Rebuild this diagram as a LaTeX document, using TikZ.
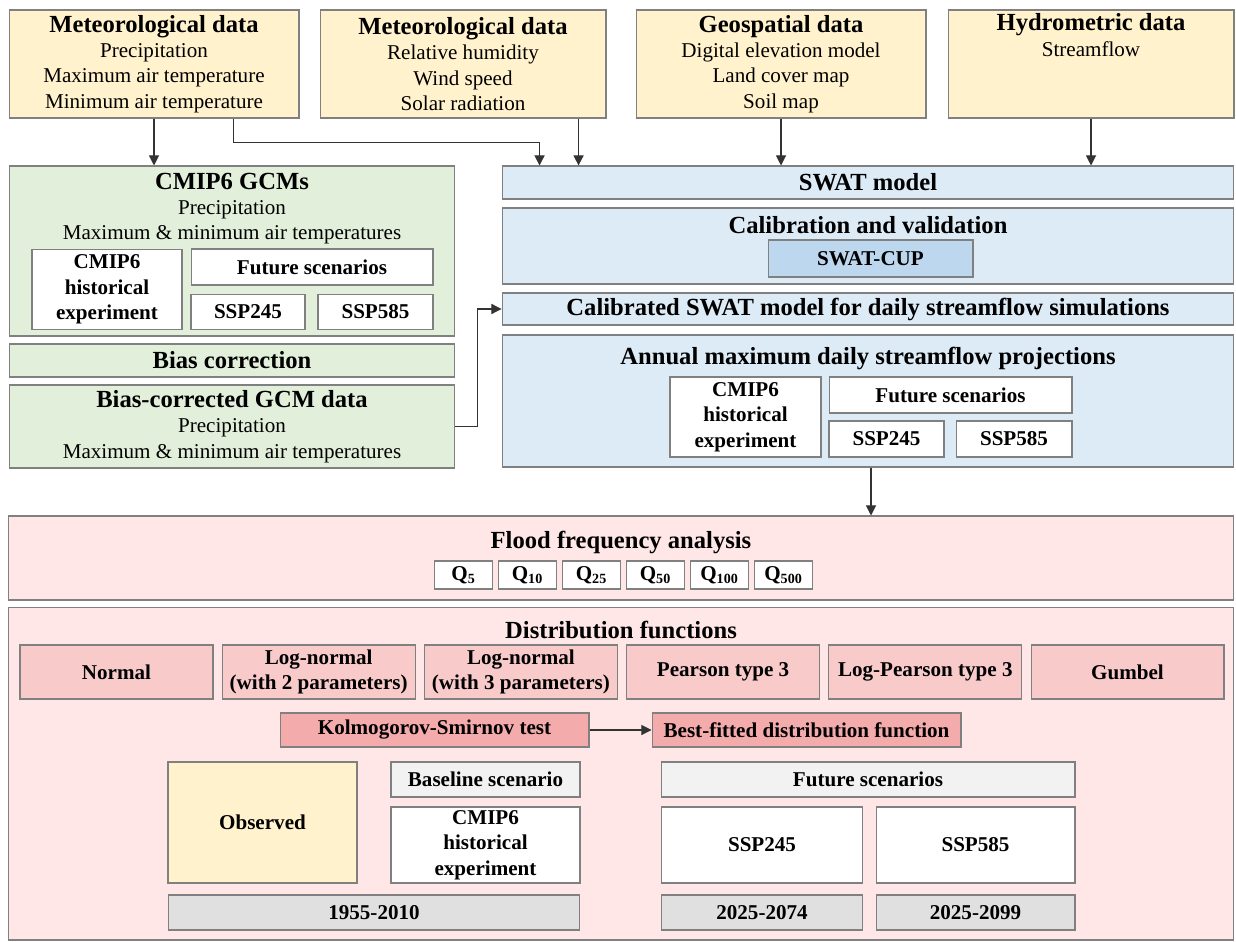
\documentclass[tikz,border=0pt]{standalone}
\usepackage{fontspec}
\setmainfont{Liberation Serif}
\usepackage{xcolor}
\usepackage{tikz}
\usetikzlibrary{positioning,arrows.meta,calc}

\definecolor{inyellow}{HTML}{FFF2CC}
\definecolor{ingreen}{HTML}{E2EFDA}
\definecolor{inblue}{HTML}{DDEBF7}
\definecolor{cupblue}{HTML}{BDD7EE}
\definecolor{pinklight}{HTML}{FFE7E7}
\definecolor{pinkmid}{HTML}{F8CACA}
\definecolor{pinkdark}{HTML}{F4ABAB}
\definecolor{greylight}{HTML}{F2F2F2}
\definecolor{greymid}{HTML}{E0E0E0}
\definecolor{edge}{HTML}{808080}

\newcommand{\hd}[1]{{\fontsize{14}{14.4}\selectfont\bfseries #1}}

\begin{document}
\begin{tikzpicture}[x=0.02cm,y=-0.02cm,>={Triangle[length=5.8pt,width=5.8pt]},
  every node/.style={font=\fontsize{12}{14.4}\selectfont}]
\tikzstyle{bx}=[draw=edge,line width=0.6pt,align=center,inner sep=0pt]
\tikzstyle{wbx}=[bx,fill=white,font=\fontsize{12}{14.4}\selectfont\bfseries]
\tikzstyle{ttl}=[anchor=north,align=center,inner sep=0pt]
\tikzstyle{con}=[->,draw=black!80,line width=0.6pt]
\useasboundingbox (0,0) rectangle (1236,942);

% input data
\node[bx,fill=inyellow,minimum width=5.8cm,minimum height=2.16cm] (met1) at (154,64)
  {\hd{Meteorological data}\\Precipitation\\Maximum air temperature\\Minimum air temperature};
\node[bx,fill=inyellow,minimum width=5.72cm,minimum height=2.16cm] (met2) at (463,64)
  {\hd{Meteorological data}\\Relative humidity\\Wind speed\\Solar radiation};
\node[bx,fill=inyellow,minimum width=5.8cm,minimum height=2.16cm] (geo) at (781,64)
  {\hd{Geospatial data}\\Digital elevation model\\Land cover map\\Soil map};
\node[bx,fill=inyellow,minimum width=5.72cm,minimum height=2.16cm] (hydro) at (1091,64)
  {\hd{Hydrometric data}\\Streamflow\\\strut\\\strut};

% GCM column
\node[bx,fill=ingreen,minimum width=8.92cm,minimum height=3.4cm] (gcm) at (232,251) {};
\node[ttl,below=4pt of gcm.north] (gcmttl)
  {\hd{CMIP6 GCMs}\\Precipitation\\Maximum \& minimum air temperatures};
\node[wbx,minimum width=3.0cm,minimum height=1.6cm] (gcmhist) at (107,289.5) {CMIP6\\historical\\experiment};
\node[wbx,minimum width=4.84cm,minimum height=0.72cm] (gcmfut) at (312,267) {Future scenarios};
\node[wbx,minimum width=2.28cm,minimum height=0.7cm] (gcm245) at (248,312) {SSP245};
\node[wbx,minimum width=2.3cm,minimum height=0.7cm] (gcm585) at (375.5,312) {SSP585};
\node[bx,fill=ingreen,minimum width=8.92cm,minimum height=0.66cm] (bias) at (232,360.5) {\hd{Bias correction}};
\node[bx,fill=ingreen,minimum width=8.92cm,minimum height=1.66cm] (biasgcm) at (232,426.5)
  {\hd{Bias-corrected GCM data}\\Precipitation\\Maximum \& minimum air temperatures};

% SWAT column
\node[bx,fill=inblue,minimum width=14.64cm,minimum height=0.66cm] (swat) at (868,182.5) {\hd{SWAT model}};
\node[bx,fill=inblue,minimum width=14.64cm,minimum height=1.52cm] (calib) at (868,246) {};
\node[ttl,below=5pt of calib.north] (calibttl) {\hd{Calibration and validation}};
\node[wbx,fill=cupblue,minimum width=4.1cm,minimum height=0.74cm] (cup) at (870.5,258.5) {SWAT-CUP};
\node[bx,fill=inblue,minimum width=14.64cm,minimum height=0.64cm] (calswat) at (868,309)
  {\hd{Calibrated SWAT model for daily streamflow simulations}};
\node[bx,fill=inblue,minimum width=14.64cm,minimum height=2.64cm] (annual) at (868,401) {};
\node[ttl,below=7pt of annual.north] (annualttl) {\hd{Annual maximum daily streamflow projections}};
\node[wbx,minimum width=3.02cm,minimum height=1.6cm] (anhist) at (745.5,417) {CMIP6\\historical\\experiment};
\node[wbx,minimum width=4.86cm,minimum height=0.72cm] (anfut) at (950.5,395) {Future scenarios};
\node[wbx,minimum width=2.3cm,minimum height=0.72cm] (an245) at (886.5,439) {SSP245};
\node[wbx,minimum width=2.32cm,minimum height=0.72cm] (an585) at (1014,439) {SSP585};

% flood frequency analysis
\node[bx,fill=pinklight,minimum width=24.52cm,minimum height=1.68cm] (flood) at (621,558) {};
\node[ttl,below=9pt of flood.north] (floodttl) {\hd{Flood frequency analysis}};
\foreach \s [count=\i from 0] in {5,10,25,50,100,500}
  \node[wbx,minimum width=1.16cm,minimum height=0.56cm] (q\s) at (463.5+64*\i,575) {Q\textsubscript{\s}};

% distribution functions
\node[bx,fill=pinklight,minimum width=24.52cm,minimum height=6.66cm] (dist) at (621,773.5) {};
\node[ttl,below=8pt of dist.north] (distttl) {\hd{Distribution functions}};
\foreach \n/\t [count=\i from 0] in {normal/Normal,lnorm2/Log-normal\\(with 2 parameters),
    lnorm3/Log-normal\\(with 3 parameters),pear/Pearson type 3,lpear/Log-Pearson type 3,gumbel/Gumbel}
  \node[wbx,fill=pinkmid,minimum width=3.86cm,minimum height=1.08cm] (\n) at (116.5+202.2*\i,672) {\t};
\node[wbx,fill=pinkdark,minimum width=6.18cm,minimum height=0.68cm] (ks) at (434.5,730) {Kolmogorov-Smirnov test};
\node[wbx,fill=pinkdark,minimum width=6.18cm,minimum height=0.68cm] (best) at (806.5,730) {Best-fitted distribution function};

\node[wbx,fill=inyellow,minimum width=3.78cm,minimum height=2.42cm] (obs) at (262.5,822.5) {Observed};
\node[wbx,fill=greylight,minimum width=3.78cm,minimum height=0.7cm] (base) at (485.5,779.5) {Baseline scenario};
\node[wbx,minimum width=3.78cm,minimum height=1.52cm] (lowhist) at (485.5,845) {CMIP6\\historical\\experiment};
\node[wbx,fill=greymid,minimum width=8.24cm,minimum height=0.7cm] (y1955) at (374,912.5) {1955-2010};
\node[wbx,fill=greylight,minimum width=8.28cm,minimum height=0.7cm] (lowfut) at (868,779.5) {Future scenarios};
\node[wbx,minimum width=4.02cm,minimum height=1.52cm] (low245) at (762,845) {SSP245};
\node[wbx,minimum width=3.98cm,minimum height=1.52cm] (low585) at (975.5,845) {SSP585};
\node[wbx,fill=greymid,minimum width=4.02cm,minimum height=0.7cm] (y2074) at (762,912.5) {2025-2074};
\node[wbx,fill=greymid,minimum width=3.98cm,minimum height=0.7cm] (y2099) at (975.5,912.5) {2025-2099};

% connectors
\draw[con] (met1.south) -- (met1.south |- gcm.north);
\draw[con] ([xshift=-1.32cm]met1.south east) -- ++(0,24) -| ([xshift=0.76cm]swat.north west);
\draw[con] ([xshift=1.54cm]swat.north west |- met2.south) -- ([xshift=1.54cm]swat.north west);
\draw[con] (geo.south) -- (geo.south |- swat.north);
\draw[con] (hydro.south) -- (hydro.south |- swat.north);
\draw[con] (biasgcm.east) -- ++(22,0) |- (calswat.west);
\draw[con] ([xshift=0.06cm]annual.south) -- ([xshift=0.06cm]annual.south |- flood.north);
\draw[con] (ks.east) -- (best.west);
\end{tikzpicture}
\end{document}
